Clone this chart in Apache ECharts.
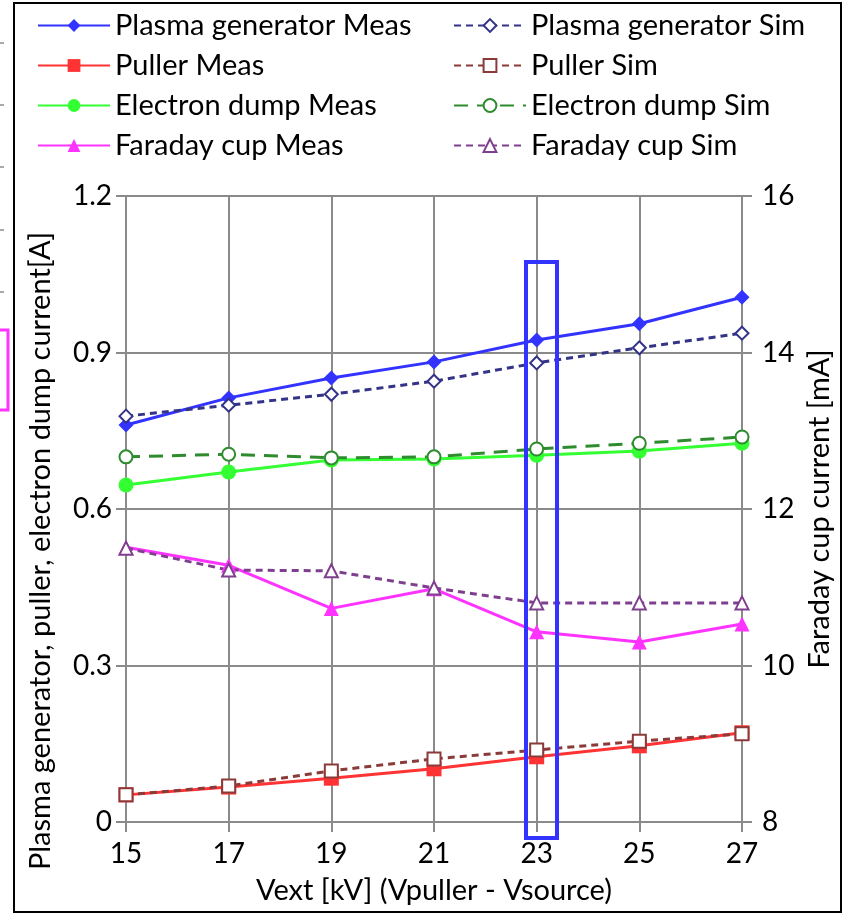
<!DOCTYPE html>
<html>
<head>
<meta charset="utf-8">
<script src="https://cdn.jsdelivr.net/npm/echarts@6/dist/echarts.min.js"></script>
<style>
  html, body { margin: 0; padding: 0; background: #fff; }
  #chart { width: 856px; height: 916px; }
</style>
</head>
<body>
<div id="chart"></div>
<script>
(function() {
  var myChart = echarts.init(document.getElementById('chart'));

  // x values (Vext, kV)
  var vext = [15, 17, 19, 21, 23, 25, 27];
  // left axis [A]
  var plasmaMeas = [0.761, 0.813, 0.851, 0.882, 0.924, 0.955, 1.006];
  var plasmaSim = [0.778, 0.799, 0.820, 0.845, 0.880, 0.909, 0.937];
  var pullerMeas = [0.052, 0.067, 0.084, 0.102, 0.125, 0.146, 0.171];
  var pullerSim = [0.052, 0.069, 0.098, 0.121, 0.138, 0.155, 0.169];
  var dumpMeas = [0.646, 0.671, 0.694, 0.696, 0.703, 0.711, 0.726];
  var dumpSim = [0.700, 0.705, 0.698, 0.700, 0.715, 0.726, 0.738];
  // right axis [mA]
  var faradayMeas = [11.51, 11.28, 10.73, 10.98, 10.43, 10.30, 10.53];
  var faradaySim = [11.50, 11.22, 11.21, 10.99, 10.80, 10.80, 10.80];

  var font = 'Lato';

  function pairs(ys) {
    return vext.map(function(x, i) { return [x, ys[i]]; });
  }

  function meas(name, ys, color, symbol, axis) {
    return {
      name: name, type: 'line', yAxisIndex: axis,
      data: pairs(ys),
      symbol: symbol, symbolSize: 15,
      lineStyle: { color: color, width: 3 },
      itemStyle: { color: color, borderWidth: 0 },
      animation: false
    };
  }

  function sim(name, ys, color, symbol, axis, dash) {
    return {
      name: name, type: 'line', yAxisIndex: axis,
      data: pairs(ys),
      symbol: symbol, symbolSize: 13,
      lineStyle: { color: color, width: 3, type: dash || [7, 5] },
      itemStyle: { color: '#fff', borderColor: color, borderWidth: 2 },
      animation: false
    };
  }

  var axisText = { color: '#000', fontSize: 29, fontFamily: font };
  var legendText = { fontSize: 29, color: '#000', fontFamily: font };

  var option = {
    backgroundColor: '#fff',
    textStyle: { fontFamily: font },
    legend: [{
      left: 32, top: 6, orient: 'vertical', itemGap: 11, itemWidth: 72, itemHeight: 16,
      textStyle: legendText,
      data: ['Plasma generator Meas', 'Puller Meas', 'Electron dump Meas', 'Faraday cup Meas']
    }, {
      left: 448, top: 6, orient: 'vertical', itemGap: 11, itemWidth: 72, itemHeight: 16,
      textStyle: legendText,
      data: ['Plasma generator Sim', 'Puller Sim', 'Electron dump Sim', 'Faraday cup Sim']
    }],
    grid: { left: 126, right: 114, top: 196, bottom: 94 },
    xAxis: {
      type: 'value', min: 15, max: 27, interval: 2,
      name: 'Vext [kV] (Vpuller - Vsource)', nameLocation: 'middle', nameGap: 54,
      nameTextStyle: axisText,
      axisLine: { show: true, onZero: false, lineStyle: { color: '#8a8a8a', width: 2 } },
      axisTick: { show: true, length: 10, lineStyle: { color: '#8a8a8a', width: 2 } },
      axisLabel: { color: '#000', fontSize: 28, fontFamily: font, margin: 18 },
      splitLine: { show: true, lineStyle: { color: '#8a8a8a', width: 2 } }
    },
    yAxis: [{
      type: 'value', min: 0, max: 1.2, interval: 0.3, position: 'left',
      axisLine: { show: true, lineStyle: { color: '#8a8a8a', width: 2 } },
      axisTick: { show: true, length: 10, lineStyle: { color: '#8a8a8a', width: 2 } },
      axisLabel: { color: '#000', fontSize: 28, fontFamily: font, margin: 14 },
      splitLine: { show: true, lineStyle: { color: '#8a8a8a', width: 2 } }
    }, {
      type: 'value', min: 8, max: 16, interval: 2, position: 'right',
      name: 'Faraday cup current [mA]',
      nameLocation: 'middle', nameGap: 62, nameTextStyle: axisText,
      axisLine: { show: true, lineStyle: { color: '#8a8a8a', width: 2 } },
      axisTick: { show: true, length: 10, lineStyle: { color: '#8a8a8a', width: 2 } },
      axisLabel: { color: '#000', fontSize: 28, fontFamily: font, margin: 20 },
      splitLine: { show: false }
    }],
    series: [
      meas('Plasma generator Meas', plasmaMeas, '#3333ff', 'diamond', 0),
      meas('Puller Meas', pullerMeas, '#ff3333', 'rect', 0),
      meas('Electron dump Meas', dumpMeas, '#33ff33', 'circle', 0),
      meas('Faraday cup Meas', faradayMeas, '#ff33ff', 'triangle', 1),
      sim('Plasma generator Sim', plasmaSim, '#333388', 'diamond', 0),
      sim('Puller Sim', pullerSim, '#8b3a3a', 'rect', 0),
      sim('Electron dump Sim', dumpSim, '#2e8b2e', 'circle', 0, [14, 9]),
      sim('Faraday cup Sim', faradaySim, '#7f3f8f', 'triangle', 1)
    ],
    graphic: [
      // left axis title (sits a bit low in the original)
      { type: 'text', x: 41, y: 551, rotation: Math.PI / 2,
        style: { text: 'Plasma generator, puller, electron dump current[A]',
          fontSize: 29, fontFamily: font, fill: '#000', align: 'center', verticalAlign: 'middle' } },
      // outer frame
      { type: 'rect', shape: { x: 14, y: 3, width: 827, height: 909 },
        style: { fill: null, stroke: '#000', lineWidth: 2 }, silent: true },
      // highlight box around 23 kV
      { type: 'rect', shape: { x: 526, y: 262, width: 31, height: 576 },
        style: { fill: null, stroke: '#3333ff', lineWidth: 4 }, z: 100, silent: true },
      // cropped marks on the left edge
      { type: 'rect', shape: { x: -4, y: 330, width: 12, height: 80 },
        style: { fill: null, stroke: '#ff33ff', lineWidth: 3 }, silent: true },
      { type: 'line', shape: { x1: 0, y1: 43, x2: 4, y2: 43 }, style: { stroke: '#555', lineWidth: 1 } },
      { type: 'line', shape: { x1: 0, y1: 105, x2: 4, y2: 105 }, style: { stroke: '#555', lineWidth: 1 } },
      { type: 'line', shape: { x1: 0, y1: 167, x2: 4, y2: 167 }, style: { stroke: '#555', lineWidth: 1 } },
      { type: 'line', shape: { x1: 0, y1: 230, x2: 4, y2: 230 }, style: { stroke: '#555', lineWidth: 1 } },
      { type: 'line', shape: { x1: 0, y1: 292, x2: 4, y2: 292 }, style: { stroke: '#555', lineWidth: 1 } }
    ]
  };

  myChart.setOption(option);
  window.addEventListener('resize', function() {
    myChart.resize();
  });
})();
</script>
</body>
</html>
